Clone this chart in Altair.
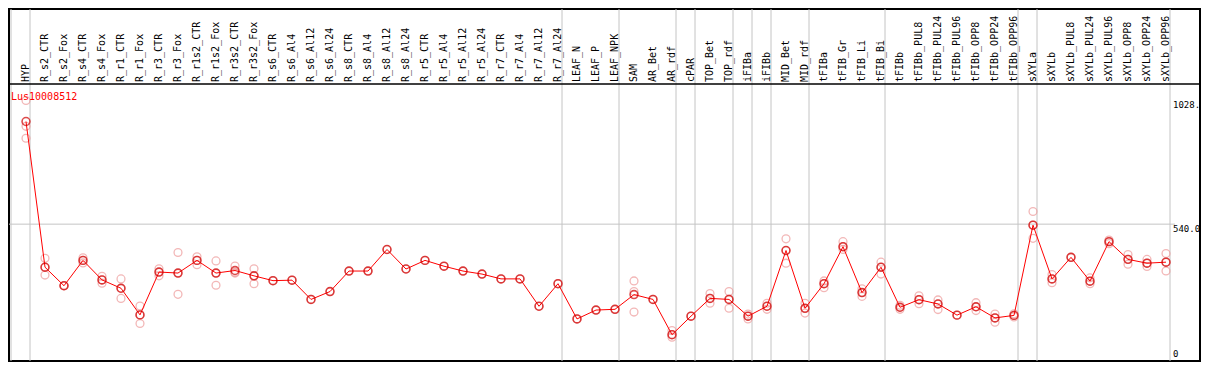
import altair as alt
import pandas as pd

# ---------------- data ----------------
categories = [
    "HYP", "R_s2_CTR", "R_s2_Fox", "R_s4_CTR", "R_s4_Fox", "R_r1_CTR", "R_r1_Fox",
    "R_r3_CTR", "R_r3_Fox", "R_r1s2_CTR", "R_r1s2_Fox", "R_r3s2_CTR", "R_r3s2_Fox",
    "R_s6_CTR", "R_s6_Al4", "R_s6_Al12", "R_s6_Al24", "R_s8_CTR", "R_s8_Al4",
    "R_s8_Al12", "R_s8_Al24", "R_r5_CTR", "R_r5_Al4", "R_r5_Al12", "R_r5_Al24",
    "R_r7_CTR", "R_r7_Al4", "R_r7_Al12", "R_r7_Al24", "LEAF_N", "LEAF_P", "LEAF_NPK",
    "SAM", "AR_Bet", "AR_rdf", "cPAR", "TOP_Bet", "TOP_rdf", "iFIBa", "iFIBb",
    "MID_Bet", "MID_rdf", "tFIBa", "tFIB_Gr", "tFIB_Li", "tFIB_Bi", "tFIBb",
    "tFIBb_PUL8", "tFIBb_PUL24", "tFIBb_PUL96", "tFIBb_OPP8", "tFIBb_OPP24",
    "tFIBb_OPP96", "sXYLa", "sXYLb", "sXYLb_PUL8", "sXYLb_PUL24", "sXYLb_PUL96",
    "sXYLb_OPP8", "sXYLb_OPP24", "sXYLb_OPP96",
]

means = [
    945, 370, 297, 397, 320, 287, 182, 351, 347, 397, 347, 357, 336, 317, 319,
    243, 274, 355, 355, 440, 363, 397, 374, 355, 343, 324, 324, 216, 305, 166,
    201, 204, 262, 243, 104, 177, 247, 243, 177, 216, 436, 208, 305, 451, 270,
    370, 212, 242, 225, 181, 214, 170, 180, 536, 324, 409, 315, 471, 401, 386, 390,
]

replicates = [
    [1028, 926, 879], [405, 370, 339], [297, 297], [407, 397, 387], [334, 320, 307],
    [324, 287, 247], [217, 182, 148], [364, 351, 336], [428, 347, 263], [411, 397, 380],
    [395, 347, 299], [375, 350, 347], [364, 336, 305], [317], [319],
    [243], [274], [355], [355], [440],
    [363], [397], [374], [355], [343],
    [324], [324], [216], [305], [166],
    [201], [204], [316, 274, 193], [243], [120, 104, 94],
    [177], [266, 247, 228], [274, 243, 208], [185, 177, 166], [228, 216, 204],
    [482, 436, 386], [228, 208, 189], [316, 305, 289], [471, 451, 440], [285, 270, 255],
    [390, 370, 343], [220, 212, 204], [257, 242, 226], [241, 225, 203], [181],
    [230, 214, 199], [185, 170, 153], [186, 180, 174], [590, 536, 484], [341, 324, 309],
    [409], [328, 315, 305], [477, 470, 463], [420, 401, 382], [401, 386, 373],
    [424, 390, 355],
]

# group boundaries: a separator is drawn after these category indices
group_after = [-1, 0, 28, 31, 34, 35, 37, 38, 39, 41, 45, 52, 53, 60]

y_ticks = [1028, 540, 0]
y_tick_labels = ["1028.", "540.0", "0"]
gene = "Lus10008512"

# ---------------- layout ----------------
W, H = 1191, 352          # inner chart size (padding 1 on each side)
STEP = 19                 # pixels per category
X0 = 17                   # pixel of first category point
HEADER = 75               # pixel of header separator line
VTOP = 1093               # value at the header line
FONT = "DejaVu Sans Mono"

x_dom = [-X0 / STEP, (W - X0) / STEP]
unit = (H - HEADER) / VTOP
y_dom = [0, H / unit]
xs = alt.Scale(domain=x_dom, nice=False, zero=False)
ys = alt.Scale(domain=y_dom, nice=False, zero=False)

mean_df = pd.DataFrame({"idx": list(range(len(categories))), "name": categories, "value": means})
rep_df = pd.DataFrame(
    [{"idx": i, "value": v} for i, reps in enumerate(replicates) for v in reps]
)
grid_df = pd.DataFrame({"pos": [g + 4 / STEP for g in group_after]})
tick_df = pd.DataFrame({"value": y_ticks, "label": y_tick_labels})

X = lambda f: alt.X(f, scale=xs, axis=None)
Y = lambda f: alt.Y(f, scale=ys, axis=None)

vgrid = alt.Chart(grid_df).mark_rule(color="#c4c4c4", strokeWidth=1).encode(
    x=X("pos:Q"), y=alt.value(0), y2=alt.value(H)
)

hgrid = alt.Chart(tick_df).transform_filter("datum.value == 540").mark_rule(
    color="#c4c4c4", strokeWidth=1
).encode(y=Y("value:Q"), x=alt.value(0), x2=alt.value(1166))

header_line = alt.Chart(tick_df).transform_filter("datum.value == 0").mark_rule(
    color="black", strokeWidth=1.5
).encode(y=alt.Y(datum=VTOP, scale=ys, axis=None), x=alt.value(0), x2=alt.value(W))

reps = alt.Chart(rep_df).mark_point(
    shape="circle", filled=False, size=62, color="#ee9a9a", strokeWidth=1.3
).encode(x=X("idx:Q"), y=Y("value:Q"))

line = alt.Chart(mean_df).mark_line(color="#ff0000", strokeWidth=1).encode(
    x=X("idx:Q"), y=Y("value:Q")
)

pts = alt.Chart(mean_df).mark_point(
    shape="circle", filled=False, size=62, color="#d00000", strokeWidth=1.6
).encode(x=X("idx:Q"), y=Y("value:Q"))

labels = alt.Chart(mean_df).mark_text(
    angle=270, align="left", baseline="middle", font=FONT, fontSize=10, color="black"
).encode(
    x=X("idx:Q"),
    y=alt.Y(datum=VTOP + 2 / unit, scale=ys, axis=None),
    text="name:N",
)

title = alt.Chart(mean_df).transform_filter("datum.idx == 0").mark_text(
    align="left", baseline="middle", font=FONT, fontSize=10, color="#ff0000"
).encode(x=alt.value(2), y=alt.value(HEADER + 13), text=alt.value(gene))

ticks_top = alt.Chart(tick_df).transform_filter("datum.value > 0").mark_text(
    align="left", baseline="top", font=FONT, fontSize=9, color="black", dy=1
).encode(x=alt.value(1164), y=Y("value:Q"), text="label:N")

ticks_zero = alt.Chart(tick_df).transform_filter("datum.value == 0").mark_text(
    align="left", baseline="bottom", font=FONT, fontSize=9, color="black", dy=-2
).encode(x=alt.value(1164), y=Y("value:Q"), text="label:N")

chart = alt.layer(
    vgrid, hgrid, header_line, reps, line, pts, labels, title, ticks_top, ticks_zero
).properties(
    width=W,
    height=H,
    padding={"left": 1, "top": 1, "right": 1, "bottom": 1},
    autosize=alt.AutoSizeParams(type="none"),
    background="white",
).configure_view(stroke="black", strokeWidth=2)

chart.save("out.html", embed_options={"renderer": "svg", "actions": False})
